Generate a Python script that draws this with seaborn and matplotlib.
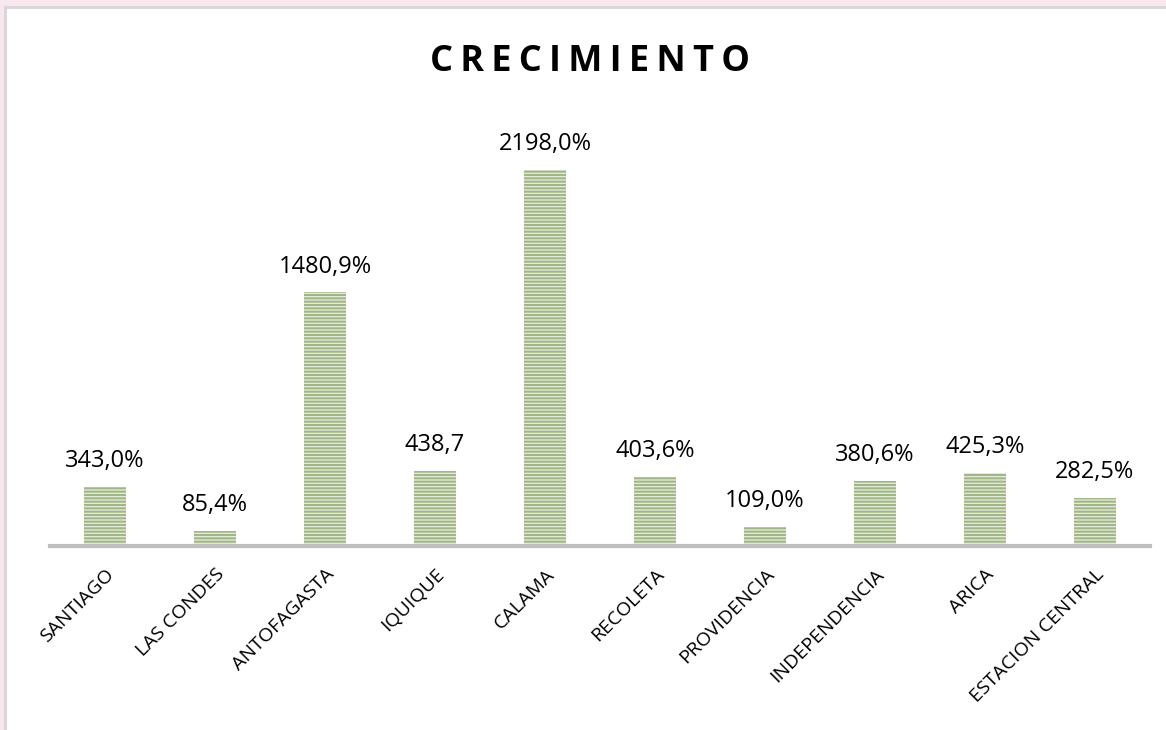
import matplotlib
matplotlib.use("Agg")
import matplotlib.pyplot as plt
from matplotlib.patches import Rectangle
import seaborn as sns

comunas = ["SANTIAGO", "LAS CONDES", "ANTOFAGASTA", "IQUIQUE", "CALAMA",
           "RECOLETA", "PROVIDENCIA", "INDEPENDENCIA", "ARICA", "ESTACION CENTRAL"]
crecimiento = [343.0, 85.4, 1480.9, 438.7, 2198.0, 403.6, 109.0, 380.6, 425.3, 282.5]
etiquetas = ["343,0%", "85,4%", "1480,9%", "438,7", "2198,0%",
             "403,6%", "109,0%", "380,6%", "425,3%", "282,5%"]

sns.set_style("white")
plt.rcParams["font.family"] = ["Open Sans", "DejaVu Sans"]
plt.rcParams["hatch.linewidth"] = 1.5
plt.rcParams["hatch.color"] = "#A0B686"

fig = plt.figure(figsize=(11.66, 7.3), dpi=100)
fig.patch.set_facecolor("#F6E8EE")
# white chart panel with a grey border, like the spreadsheet frame
panel = Rectangle((5 / 1166, -0.05), 1.1, (730 - 7) / 730 + 0.05,
                  transform=fig.transFigure, facecolor="white",
                  edgecolor="#D6D6D6", linewidth=2, zorder=-10)
fig.add_artist(panel)

ax = fig.add_axes([50 / 1166, (730 - 546) / 730, 1100 / 1166, (546 - 118) / 730])
ax.set_facecolor("none")
ax.set_zorder(1)

sns.barplot(x=comunas, y=crecimiento, color="#E8EEDD", saturation=1,
            width=0.38, ax=ax, edgecolor="#A0B686", linewidth=0)
for p in ax.patches:
    p.set_hatch("-----")

ax.bar_label(ax.containers[0], labels=etiquetas, padding=10,
             fontsize=17, color="black")

ax.set_ylim(0, 2500)
ax.set_xlim(-0.5, len(comunas) - 0.5)
ax.set_yticks([])
ax.set_xlabel("")
ax.set_ylabel("")
for side in ["top", "right", "left"]:
    ax.spines[side].set_visible(False)
ax.spines["bottom"].set_color("#BFBFBF")
ax.spines["bottom"].set_linewidth(3)

ax.tick_params(axis="x", length=0, pad=14, colors="black")
plt.setp(ax.get_xticklabels(), rotation=45, ha="right",
         rotation_mode="anchor", fontsize=14, color="black")

fig.text(590 / 1166, 1 - 62 / 730, "\u2009".join("CRECIMIENTO"),
         ha="center", va="center", fontsize=26, fontweight="bold", color="black")

fig.savefig("out.png", dpi=100, facecolor=fig.get_facecolor())
